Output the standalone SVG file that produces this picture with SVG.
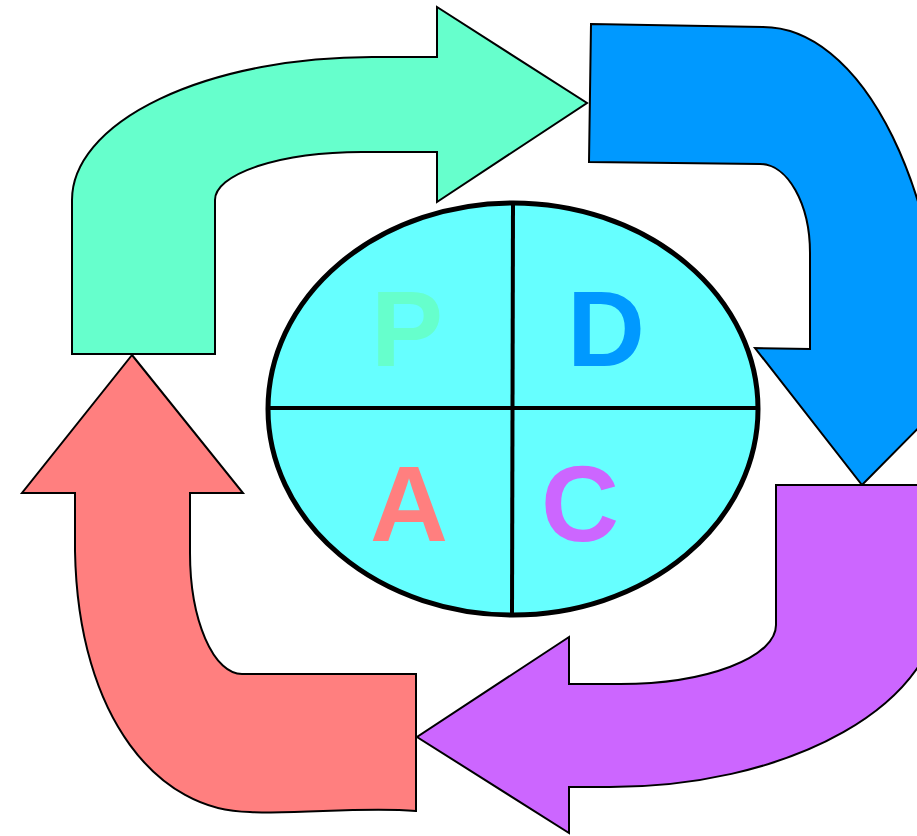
<svg xmlns="http://www.w3.org/2000/svg" width="917" height="836" viewBox="0 0 917 836">
<style>
.arr{stroke:#000;stroke-width:2;stroke-linejoin:miter}
.lbl{font-family:"Liberation Sans",Arial,sans-serif;font-weight:bold;font-size:108px;text-anchor:middle}
</style>
<rect width="917" height="836" fill="#fff"/>
<g id="arrow-plan">
<path class="arr" fill="#66FFCC" d="M72,354 L72,200 A300,143 0 0 1 372,57 L437,57 L437,7 L587,103 L437,202 L437,152 L362,152 A147,48 0 0 0 215,200 L215,354 Z"/>
</g>
<g id="arrow-do">
<path class="arr" fill="#0099FF" d="M591,24 L763,27 A183,373 0 0 1 946,400 L862,485 L755,348 L810,349 L810,253 A50,89 0 0 0 760,164 L589,162 Z"/>
</g>
<g id="arrow-check">
<path class="arr" fill="#CC66FF" d="M776,485 L940,485 L940,600 A330,187 0 0 1 610,787 L569,787 L569,833 L417,737 L569,637 L569,684 L620,684 A156,59 0 0 0 776,625 Z"/>
</g>
<g id="arrow-act">
<path class="arr" fill="#FF7F7F" d="M132,355 L243,493 L190,493 L190,553 A52,121 0 0 0 242,674 L416,674 L416,811 C360,806 300,815 250,812 C160,812 78,720 75,551 L75,493 L22,493 Z"/>
</g>
<g id="pdca-circle">
<ellipse cx="513" cy="409" rx="245" ry="206" fill="#66FFFF" stroke="#000" stroke-width="5"/>
<line x1="513" y1="204" x2="512" y2="615" stroke="#000" stroke-width="4"/>
<line x1="269" y1="408" x2="757" y2="408" stroke="#000" stroke-width="4"/>
<text class="lbl" x="407" y="366" fill="#66FFCC">P</text>
<text class="lbl" x="606" y="366" fill="#0099FF">D</text>
<text class="lbl" x="409" y="541" fill="#FF7F7F">A</text>
<text class="lbl" x="580" y="541" fill="#CC66FF">C</text>
</g>
</svg>
